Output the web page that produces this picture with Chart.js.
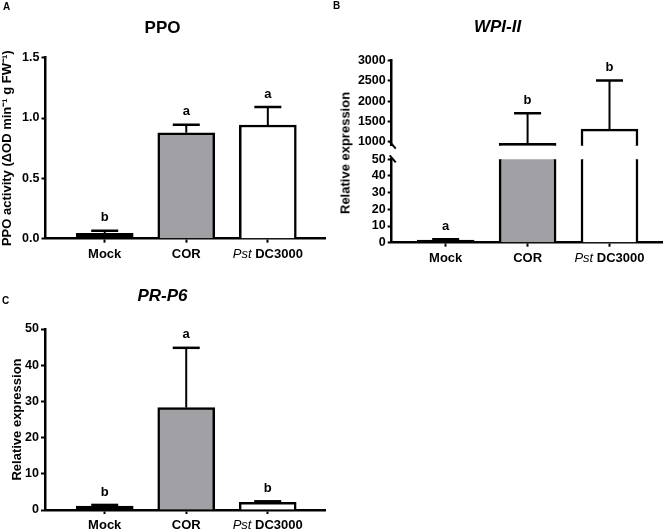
<!DOCTYPE html>
<html>
<head>
<meta charset="utf-8">
<script src="https://cdn.jsdelivr.net/npm/chart.js@4.4.1/dist/chart.umd.min.js"></script>
<style>
  body { margin: 0; background: #fff; }
  #fig { position: relative; width: 666px; height: 531px; overflow: hidden; font-family: 'Liberation Sans', Arial, sans-serif; color: #000; }
  canvas { position: absolute; }
  .panel { position: absolute; font-weight: bold; font-size: 10px; line-height: 10px; }
  #ytitleB { position: absolute; left: 345px; top: 152.5px; transform: translate(-50%, -50%) rotate(-90deg);
             font-weight: bold; font-size: 13px; line-height: 15px; white-space: nowrap; }
</style>
</head>
<body>
<div id="fig">
  <canvas id="chartA" width="333" height="268" style="left:0;top:0"></canvas>
  <canvas id="chartB1" width="333" height="160" style="left:333px;top:0"></canvas>
  <canvas id="chartB2" width="333" height="128" style="left:333px;top:140px"></canvas>
  <canvas id="chartC" width="333" height="266" style="left:0;top:265px"></canvas>
  <div class="panel" style="left:3px;top:1.5px">A</div>
  <div class="panel" style="left:333px;top:0.5px">B</div>
  <div class="panel" style="left:2px;top:295.5px">C</div>
  <div id="ytitleB">Relative expression</div>
</div>
<script>
const categories = ["Mock", "COR", "Pst DC3000"];
const italicWords = ["Pst"];
const barColors = ["#000000", "#a1a1a5", "#ffffff"];

// A - PPO activity
const ppoValues = [0.045, 0.878, 0.942];
const ppoErrors = [0.02, 0.067, 0.15];
const ppoLetters = ["b", "a", "a"];
const ppoTicks = [0, 0.5, 1.0, 1.5];

// B - WPI-II (broken axis)
const wpiValues = [1.5, 960, 1310];
const wpiErrors = [0.6, 740, 1200];
const wpiLetters = ["a", "b", "b"];
const wpiTicksHigh = [1000, 1500, 2000, 2500, 3000];
const wpiTicksLow = [0, 10, 20, 30, 40, 50];

// C - PR-P6
const prValues = [1.1, 28.3, 2.1];
const prErrors = [0.3, 16.5, 0.3];
const prLetters = ["b", "a", "b"];
const prTicks = [0, 10, 20, 30, 40, 50];

const FONT = "'Liberation Sans', Arial, sans-serif";
Chart.defaults.font.family = FONT;
Chart.defaults.color = '#000';

// one-sided error bars + significance letters
const errorBars = {
  id: 'errorBars',
  afterDatasetsDraw(chart, args, opts) {
    const {ctx, chartArea: a, scales: {x, y}} = chart;
    const pts = chart.data.datasets[0].data;
    ctx.save();
    ctx.strokeStyle = '#000';
    ctx.fillStyle = '#000';
    pts.forEach((p, i) => {
      const top = p.y + opts.errors[i];
      const cx = x.getPixelForValue(p.x);
      const y0 = y.getPixelForValue(p.y);
      const y1 = y.getPixelForValue(top);
      ctx.save();
      ctx.beginPath();
      ctx.rect(a.left, a.top, a.right - a.left, a.bottom - a.top);
      ctx.clip();
      ctx.lineWidth = 2;
      ctx.beginPath(); ctx.moveTo(cx, y0); ctx.lineTo(cx, y1); ctx.stroke();
      ctx.lineWidth = 2.5;
      ctx.beginPath(); ctx.moveTo(cx - 13.5, y1); ctx.lineTo(cx + 13.5, y1); ctx.stroke();
      ctx.restore();
      if (top >= y.min && top <= y.max) {
        ctx.font = 'bold 13px ' + FONT;
        ctx.textAlign = 'center';
        ctx.textBaseline = 'middle';
        ctx.fillText(opts.letters[i], cx, y1 - 13);
      }
    });
    ctx.restore();
  }
};

// little slash where the y axis is broken
const axisBreak = {
  id: 'axisBreak',
  afterDraw(chart, args, opts) {
    if (!opts.edge) return;
    const {ctx, chartArea: a} = chart;
    const yy = opts.edge === 'bottom' ? a.bottom : a.top;
    ctx.save();
    ctx.strokeStyle = '#000';
    ctx.lineWidth = 2;
    ctx.beginPath(); ctx.moveTo(a.left - 2, yy - 4); ctx.lineTo(a.left + 4, yy + 3); ctx.stroke();
    ctx.restore();
  }
};

// category labels with the italic "Pst"
const xLabels = {
  id: 'xLabels',
  afterDraw(chart) {
    const x = chart.scales.x;
    if (!x.options.display) return;
    const ctx = chart.ctx;
    ctx.save();
    ctx.fillStyle = '#000';
    ctx.textAlign = 'left';
    ctx.textBaseline = 'middle';
    ctx.font = 'bold 13px ' + FONT;
    const space = ctx.measureText(' ').width;
    categories.forEach((label, i) => {
      const parts = label.split(' ').map(w => ({w, font: (italicWords.includes(w) ? 'italic ' : 'bold ') + '13px ' + FONT}));
      let total = 0;
      parts.forEach((p, k) => { ctx.font = p.font; p.width = ctx.measureText(p.w).width; total += p.width + (k ? space : 0); });
      let px = x.getPixelForValue(i) - total / 2;
      const py = x.top + 15.5;
      parts.forEach(p => { ctx.font = p.font; ctx.fillText(p.w, px, py); px += p.width + space; });
    });
    ctx.restore();
  }
};

const axisGrid = {drawOnChartArea: false, drawTicks: true, tickLength: 4, tickWidth: 2, tickColor: '#000', color: '#000', offset: false};
const axisBorder = {color: '#000', width: 2.5};

function barChart(id, s) {
  return new Chart(document.getElementById(id), {
    type: 'bar',
    data: {
      datasets: [{
        data: s.values.map((v, i) => ({x: i, y: v})),
        backgroundColor: barColors,
        borderColor: '#000',
        borderWidth: 2.5,
        barThickness: 57,
        clip: 0
      }]
    },
    options: {
      responsive: false,
      animation: false,
      layout: {padding: s.padding},
      plugins: {
        legend: {display: false},
        tooltip: {enabled: false},
        title: {
          display: !!s.title, text: s.title, color: '#000',
          font: {size: 17, weight: 'bold', style: s.titleItalic ? 'italic' : 'normal'},
          padding: s.titlePadding
        },
        errorBars: {errors: s.errors, letters: s.letters},
        axisBreak: {edge: s.breakEdge}
      },
      scales: {
        x: {
          type: 'linear', display: s.showX, min: s.xMin, max: s.xMax,
          offset: false, bounds: 'data',
          afterBuildTicks: sc => { sc.ticks = categories.map((c, i) => ({value: i})); },
          afterFit: sc => { if (s.xHeight != null) sc.height = s.xHeight; },
          ticks: {display: false, autoSkip: false},
          grid: axisGrid,
          border: axisBorder
        },
        y: {
          min: s.yMin, max: s.yMax,
          afterBuildTicks: sc => { sc.ticks = s.ticks.map(v => ({value: v})); },
          afterFit: sc => { sc.width = s.yWidth; },
          ticks: {callback: s.fmt, font: {size: 12.5, weight: 'bold'}, padding: 2, color: '#000', autoSkip: false},
          grid: axisGrid,
          border: axisBorder,
          title: {
            display: !!s.yTitle, text: s.yTitle, color: '#000',
            font: {size: 13, weight: 'bold'}, padding: {top: s.yTitlePad || 0, bottom: 0}
          }
        }
      }
    },
    plugins: [errorBars, axisBreak, xLabels]
  });
}

const chartA = barChart('chartA', {
  values: ppoValues, errors: ppoErrors, letters: ppoLetters, ticks: ppoTicks,
  yMin: 0, yMax: 1.5, fmt: v => v.toFixed(1),
  title: 'PPO', titlePadding: {top: 17.8, bottom: 19.5},
  yTitle: 'PPO activity (\u0394OD min\u207B\u00B9 g FW\u207B\u00B9)', yTitlePad: 0,
  padding: {left: 0, right: 8, top: 0, bottom: 0},
  showX: true, xMin: -0.726, xMax: 2.701, xHeight: 29.3, yWidth: 45.5
});

const chartB1 = barChart('chartB1', {
  values: wpiValues, errors: wpiErrors, letters: wpiLetters, ticks: wpiTicksHigh,
  yMin: 900, yMax: 3000, fmt: v => String(v),
  title: 'WPI-II', titleItalic: true, titlePadding: {top: 16.8, bottom: 23.5},
  padding: {left: 0, right: 4, top: 0, bottom: 14.3},
  showX: false, xMin: -0.659, xMax: 2.641, yWidth: 58.7, breakEdge: 'bottom'
});

const chartB2 = barChart('chartB2', {
  values: wpiValues, errors: wpiErrors, letters: wpiLetters, ticks: wpiTicksLow,
  yMin: 0, yMax: 50, fmt: v => String(v),
  padding: {left: 0, right: 4, top: 19.3, bottom: 0},
  showX: true, xMin: -0.659, xMax: 2.641, xHeight: 25.3, yWidth: 58.7, breakEdge: 'top'
});

const chartC = barChart('chartC', {
  values: prValues, errors: prErrors, letters: prLetters, ticks: prTicks,
  yMin: 0, yMax: 50, fmt: v => String(v),
  title: 'PR-P6', titleItalic: true, titlePadding: {top: 20.8, bottom: 22.8},
  yTitle: 'Relative expression', yTitlePad: 9.2,
  padding: {left: 0, right: 8, top: 0, bottom: 0},
  showX: true, xMin: -0.733, xMax: 2.703, xHeight: 21, yWidth: 45
});
</script>
</body>
</html>
